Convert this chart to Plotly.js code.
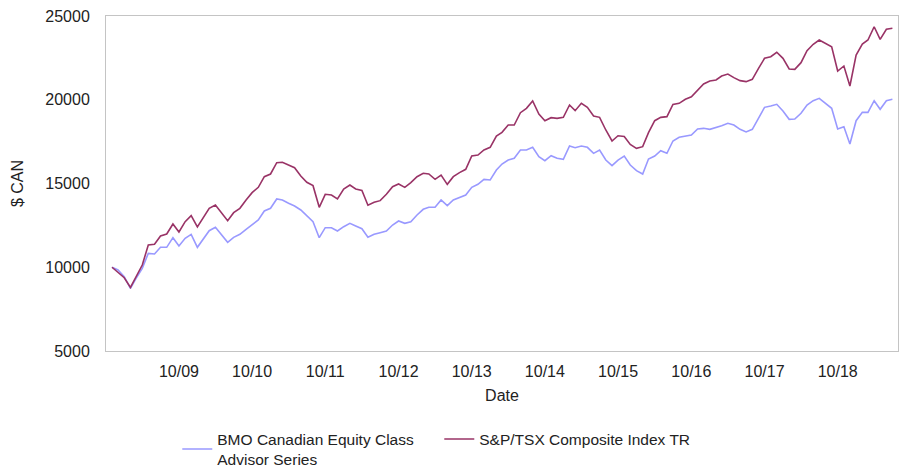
<!DOCTYPE html>
<html>
<head>
<meta charset="utf-8">
<script src="https://cdn.plot.ly/plotly-3.0.1.min.js"></script>
<style>html,body{margin:0;padding:0;background:#fff;}#chart{width:902px;height:467px;}</style>
</head>
<body>
<div id="chart"></div>
<script>
// Monthly growth of $10,000, Nov 2008 - Jul 2019
const startYear = 2008, startMonth = 11; // first observation
const fundName = "BMO Canadian Equity Class<br>Advisor Series";
const indexName = "S&P/TSX Composite Index TR";
const fundValues = [
10000,9836,9436,8740,9340,9937,10831,10791,11190,11190,
11766,11269,11726,11965,11190,11687,12184,12382,11925,11488,
11787,11965,12265,12562,12821,13358,13519,14075,14015,13817,
13657,13418,13060,12720,11766,12362,12362,12164,12422,12621,
12462,12300,11787,11965,12064,12164,12522,12761,12621,12720,
13120,13460,13579,13579,14015,13677,14015,14154,14313,14771,
14950,15249,15209,15806,16164,16403,16503,17000,17000,17160,
16600,16363,16662,16503,16443,17239,17140,17239,17160,16801,
17000,16403,16065,16400,16642,16105,15765,15567,16463,16642,
16960,16801,17537,17757,17836,17896,18254,18294,18234,18334,
18453,18592,18493,18234,18075,18234,18890,19547,19627,19727,
19328,18830,18850,19190,19687,19945,20085,19787,19487,18254,
18393,17358,18750,19249,19249,19945,19428,19945,20025
];
const indexValues = [
10000,9675,9376,8800,9436,10134,11328,11370,11866,11985,
12582,12104,12720,13078,12403,13018,13519,13716,13259,12779,
13259,13519,14015,14454,14774,15407,15567,16242,16266,16105,
15945,15448,15070,14871,13579,14354,14313,14075,14672,14910,
14672,14590,13700,13876,13976,14354,14811,14970,14771,15050,
15407,15607,15567,15249,15507,14950,15407,15647,15846,16642,
16701,17000,17160,17836,18055,18493,18493,19227,19487,19925,
19149,18751,18929,18890,18950,19687,19348,19787,19547,19030,
18950,18194,17537,17850,17810,17330,17100,17200,18035,18750,
18950,18990,19725,19787,20025,20180,20582,20940,21120,21180,
21418,21537,21318,21140,21080,21220,21877,22474,22572,22833,
22474,21836,21817,22214,22930,23310,23567,23370,23167,21716,
22015,20821,22672,23328,23567,24360,23609,24206,24266
];
const tickDates = ['2009-10-01','2010-10-01','2011-10-01','2012-10-01','2013-10-01',
                   '2014-10-01','2015-10-01','2016-10-01','2017-10-01','2018-10-01'];
const tickLabels = ['10/09','10/10','10/11','10/12','10/13','10/14','10/15','10/16','10/17','10/18'];
const yTicks = [5000,10000,15000,20000,25000];

function pad(n){return (n<10?'0':'')+n;}
const dates = [];
for (let i = 0; i < fundValues.length; i++) {
  const m0 = startMonth - 1 + i;
  const y = startYear + Math.floor(m0 / 12);
  const m = (m0 % 12) + 1;
  dates.push(y + '-' + pad(m) + '-01');
}

const font = {family: 'Liberation Sans, Arial, sans-serif', size: 16, color: '#222'};
const legendFont = {family: 'Liberation Sans, Arial, sans-serif', size: 15.5, color: '#222'};

const traces = [
  {x: dates, y: fundValues, type: 'scatter', mode: 'lines', name: fundName,
   line: {color: '#9999FF', width: 1.6}},
  {x: dates, y: indexValues, type: 'scatter', mode: 'lines', name: indexName,
   line: {color: '#993366', width: 1.6}}
];

const layout = {
  width: 902, height: 467,
  margin: {l: 106, r: 4, t: 16, b: 116, autoexpand: false},
  paper_bgcolor: '#fff', plot_bgcolor: '#fff',
  font: font,
  showlegend: true,
  xaxis: {
    type: 'date',
    range: ['2008-10-02', '2019-07-29'],
    tickvals: tickDates, ticktext: tickLabels,
    showgrid: false, zeroline: false,
    showline: true, mirror: true, linecolor: '#c4c4c4', linewidth: 1,
    ticks: '', ticklabelstandoff: 6, automargin: false,
    title: {text: 'Date', font: font, standoff: 10}
  },
  yaxis: {
    range: [5000, 25000],
    tickvals: yTicks, tickformat: 'd',
    showgrid: false, zeroline: false,
    showline: true, mirror: true, linecolor: '#c4c4c4', linewidth: 1,
    ticks: '', ticklabelstandoff: 12, automargin: false,
    title: {text: '$ CAN', font: font, standoff: 17}
  },
  legend: {
    orientation: 'h', x: 0.09, xanchor: 'left', y: -0.213, yanchor: 'top',
    font: legendFont, entrywidth: 217, bgcolor: 'rgba(0,0,0,0)', tracegroupgap: 0
  }
};

Plotly.newPlot('chart', traces, layout, {displayModeBar: false, staticPlot: true});
</script>
</body>
</html>
